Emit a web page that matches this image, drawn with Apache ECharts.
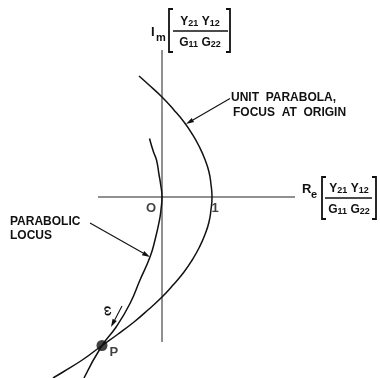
<!DOCTYPE html>
<html>
<head>
<meta charset="utf-8">
<script src="https://cdn.jsdelivr.net/npm/echarts@6/dist/echarts.min.js"></script>
<style>
  html, body { margin: 0; padding: 0; background: #fff; }
  #c { width: 380px; height: 378px; }
</style>
</head>
<body>
<div id="c"></div>
<script>
// Extents of the drawn real and imaginary axes (plane units)
const realAxisX = [-1.28, 2.66];
const imagAxisY = [-2.9, 2.94];

// Unit parabola, focus at the origin, vertex at 1
const unitParabolaY = [2.42, 2.25, 2.0, 1.75, 1.5, 1.25, 1.0, 0.75, 0.5, 0.25, 0,
  -0.25, -0.5, -0.75, -1.0, -1.25, -1.5, -1.75, -2.0, -2.25, -2.5, -2.75, -3.0, -3.25, -3.5, -3.62];
const unitParabolaX = [-0.46, -0.27, 0.0, 0.23, 0.44, 0.61, 0.75, 0.86, 0.94, 0.98, 1.0,
  0.98, 0.94, 0.86, 0.75, 0.61, 0.44, 0.23, 0.0, -0.27, -0.56, -0.89, -1.24, -1.58, -1.98, -2.18];

// Parabolic locus through the origin
const locusY = [1.17, 0.9, 0.74, 0.45, 0.27, 0, -0.25, -0.46, -0.86, -1.2, -1.66, -2.13, -2.59, -2.97, -3.62];
const locusX = [-0.25, -0.17, -0.11, -0.06, -0.03, 0, -0.02, -0.05, -0.14, -0.24, -0.44, -0.64, -0.91, -1.2, -1.56];

// Operating point P
const pointP = [-1.2, -2.97];

// Real-axis tick marks
const tickValues = [0, 1];
const tickLabels = ['O', '1'];

const ink = '#111';
const FONT = '"Liberation Sans", Arial, sans-serif';

function zip(xs, ys) { return xs.map((x, i) => [x, ys[i]]); }

function bracket(x, y1, y2, dir) {
  return {
    type: 'polyline',
    shape: { points: [[x + 4 * dir, y1], [x, y1], [x, y2], [x + 4 * dir, y2]] },
    style: { stroke: ink, lineWidth: 1.8, fill: null }
  };
}

function arrow(x1, y1, x2, y2) {
  const a = Math.atan2(y2 - y1, x2 - x1), L = 8, W = 2.4;
  const bx = x2 - L * Math.cos(a), by = y2 - L * Math.sin(a);
  const nx = -Math.sin(a) * W, ny = Math.cos(a) * W;
  return [
    { type: 'line', shape: { x1: x1, y1: y1, x2: bx, y2: by }, style: { stroke: ink, lineWidth: 1.1 } },
    { type: 'polygon', shape: { points: [[x2, y2], [bx + nx, by + ny], [bx - nx, by - ny]] }, style: { fill: ink } }
  ];
}

const richSub = {
  a: { fontSize: 12, lineHeight: 12, fontWeight: 'bold', fontFamily: FONT, fill: ink, verticalAlign: 'bottom' },
  b: { fontSize: 9, lineHeight: 9, fontWeight: 'bold', fontFamily: FONT, fill: ink, verticalAlign: 'bottom' }
};

function richText(text, x, y, align) {
  return {
    type: 'text',
    style: { text: text, x: x, y: y, textAlign: align || 'center', textVerticalAlign: 'middle', rich: richSub }
  };
}

function plainText(text, x, y, size, align) {
  return {
    type: 'text',
    style: {
      text: text, x: x, y: y, font: 'bold ' + (size || 12) + 'px ' + FONT, fill: ink,
      textAlign: align || 'left', textVerticalAlign: 'middle'
    }
  };
}

// bracketed ratio Y21Y12 / G11G22 preceded by I_m or R_e
function ratioLabel(pre, preSub, preX, preY, subDx, cx, barY, barX0, barX1, lbx, rbx, by1, by2) {
  return [
    plainText(pre, preX, preY, 13, 'left'),
    plainText(preSub, preX + subDx, preY + 6, 11, 'left'),
    bracket(lbx, by1, by2, 1),
    bracket(rbx, by1, by2, -1),
    richText('{a|Y}{b|21} {a|Y}{b|12}', cx, barY - 9),
    { type: 'line', shape: { x1: barX0, y1: barY, x2: barX1, y2: barY }, style: { stroke: ink, lineWidth: 1.3 } },
    richText('{a|G}{b|11} {a|G}{b|22}', cx, barY + 12)
  ];
}

const chart = echarts.init(document.getElementById('c'), null, { renderer: 'canvas' });

const lineStyle = { color: ink, width: 1.5 };

chart.setOption({
  animation: false,
  backgroundColor: '#fff',
  grid: { left: 0, right: 0, top: 0, bottom: 0 },
  xAxis: { type: 'value', min: -3.24, max: 4.36, show: false },
  yAxis: { type: 'value', min: -3.62, max: 3.94, show: false },
  series: [
    {
      type: 'line', data: [[realAxisX[0], 0], [realAxisX[1], 0]], symbol: 'none',
      lineStyle: { color: '#222', width: 1 }, silent: true
    },
    {
      type: 'line', data: [[0, imagAxisY[0]], [0, imagAxisY[1]]], symbol: 'none',
      lineStyle: { color: '#222', width: 1 }, silent: true
    },
    {
      type: 'line', data: zip(unitParabolaX, unitParabolaY), smooth: true, symbol: 'none',
      lineStyle: lineStyle, silent: true
    },
    {
      type: 'line', data: zip(locusX, locusY), smooth: true, symbol: 'none',
      lineStyle: lineStyle, silent: true
    },
    {
      type: 'scatter', data: [pointP], symbolSize: 11, itemStyle: { color: ink },
      label: { show: true, formatter: 'P', position: [13, 6], fontSize: 13, fontWeight: 'bold', fontFamily: FONT, color: ink },
      silent: true
    },
    {
      type: 'scatter', symbolSize: 0,
      data: tickValues.map((v, i) => ({ value: [v, 0], name: tickLabels[i] })),
      label: {
        show: true, formatter: p => p.name, fontSize: 13, fontWeight: 'bold', fontFamily: FONT, color: ink,
        align: 'center', verticalAlign: 'middle'
      },
      labelLayout: p => ({ dx: p.dataIndex === 0 ? -11 : 3, dy: 11 }),
      silent: true
    }
  ],
  graphic: [].concat(
    ratioLabel('I', 'm', 151, 32, 5, 200, 31, 173, 228, 169, 230, 9, 52),
    ratioLabel('R', 'e', 302, 189, 9, 349, 198, 325, 372, 322, 376, 177, 219),
    plainText('UNIT  PARABOLA,', 231, 98),
    plainText('FOCUS  AT  ORIGIN', 233, 113),
    plainText('PARABOLIC', 10, 222),
    plainText('LOCUS', 10, 236),
    arrow(230, 98.5, 186, 124),
    arrow(90, 223, 150, 257),
    arrow(122, 306, 111, 327),
    [{
      type: 'text', x: 108, y: 311, rotation: -1.45,
      style: { text: 'ω', font: 'bold 12px ' + FONT, fill: ink, textAlign: 'center', textVerticalAlign: 'middle' }
    }]
  )
});
</script>
</body>
</html>
